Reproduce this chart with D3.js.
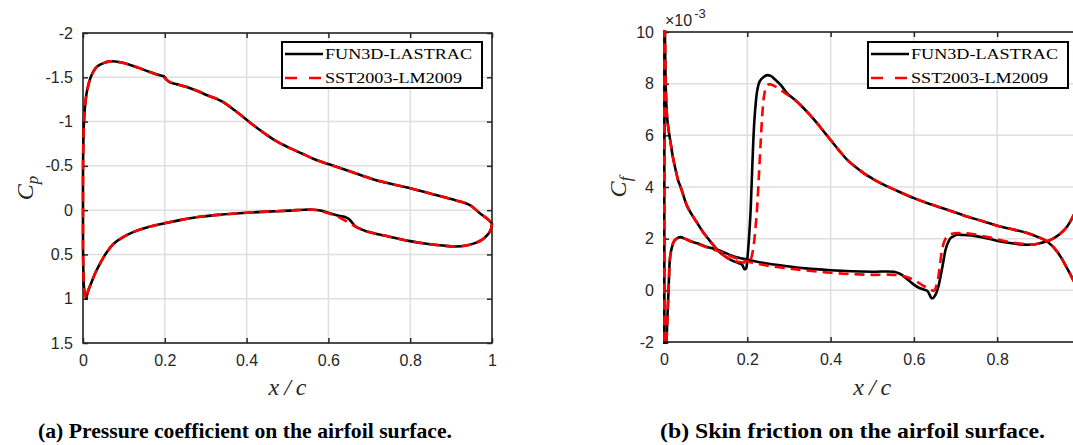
<!DOCTYPE html>
<html>
<head>
<meta charset="utf-8">
<script src="https://cdn.jsdelivr.net/npm/d3@7"></script>
<style>
  body { margin: 0; background: #fff; }
  svg { display: block; }
</style>
</head>
<body>
<div id="chart"></div>
<script>
const xTicks = [0, 0.2, 0.4, 0.6, 0.8, 1];
const cpTicks = [-2, -1.5, -1, -0.5, 0, 0.5, 1, 1.5];
const cfTicks = [-2, 0, 2, 4, 6, 8, 10];
const seriesNames = ["FUN3D-LASTRAC", "SST2003-LM2009"];

// Cp, upper surface (stagnation -> trailing edge)
const cpUpperFun3d = [[0.008, 1.0], [0.003, 0.9], [0.001, 0.7], [0.0, 0.4], [0.0, 0.0], [0.0, -0.4], [0.001, -0.8],
  [0.003, -1.05], [0.006, -1.22], [0.01, -1.35], [0.018, -1.49], [0.026, -1.57], [0.034, -1.62], [0.05, -1.66],
  [0.067, -1.68], [0.091, -1.67], [0.115, -1.64], [0.14, -1.6], [0.16, -1.565], [0.18, -1.535], [0.19, -1.52],
  [0.196, -1.515], [0.2, -1.5], [0.206, -1.465], [0.214, -1.44], [0.23, -1.42], [0.254, -1.39], [0.28, -1.345],
  [0.302, -1.3], [0.325, -1.26], [0.343, -1.22], [0.37, -1.13], [0.4, -1.02], [0.425, -0.93], [0.449, -0.85],
  [0.476, -0.77], [0.506, -0.7], [0.535, -0.64], [0.563, -0.58], [0.6, -0.52], [0.652, -0.44], [0.709, -0.35],
  [0.75, -0.3], [0.798, -0.25], [0.855, -0.18], [0.912, -0.11], [0.945, -0.06], [0.969, 0.03], [0.989, 0.1], [1.0, 0.15]];
const cpUpperSst = [[0.008, 1.0], [0.003, 0.9], [0.001, 0.7], [0.0, 0.4], [0.0, 0.0], [0.0, -0.4], [0.001, -0.8],
  [0.003, -1.05], [0.006, -1.22], [0.01, -1.35], [0.018, -1.49], [0.026, -1.57], [0.034, -1.62], [0.05, -1.66],
  [0.067, -1.68], [0.091, -1.67], [0.115, -1.64], [0.14, -1.6], [0.16, -1.565], [0.18, -1.53], [0.19, -1.51],
  [0.2, -1.49], [0.21, -1.455], [0.22, -1.435], [0.23, -1.42], [0.254, -1.39], [0.28, -1.345],
  [0.302, -1.3], [0.325, -1.26], [0.343, -1.22], [0.37, -1.13], [0.4, -1.02], [0.425, -0.93], [0.449, -0.85],
  [0.476, -0.77], [0.506, -0.7], [0.535, -0.64], [0.563, -0.58], [0.6, -0.52], [0.652, -0.44], [0.709, -0.35],
  [0.75, -0.3], [0.798, -0.25], [0.855, -0.18], [0.912, -0.11], [0.945, -0.06], [0.969, 0.03], [0.989, 0.1], [1.0, 0.15]];
// Cp, lower surface (stagnation -> trailing edge)
const cpLowerFun3d = [[0.008, 1.0], [0.012, 0.92], [0.016, 0.87], [0.022, 0.8], [0.03, 0.71], [0.042, 0.6],
  [0.056, 0.49], [0.075, 0.38], [0.1, 0.3], [0.124, 0.245], [0.16, 0.19], [0.197, 0.15], [0.24, 0.11],
  [0.286, 0.075], [0.34, 0.05], [0.4, 0.03], [0.45, 0.017], [0.506, 0.005], [0.54, -0.005], [0.563, -0.005],
  [0.58, 0.005], [0.6, 0.03], [0.618, 0.055], [0.632, 0.07], [0.642, 0.08], [0.65, 0.1], [0.658, 0.14],
  [0.666, 0.185], [0.68, 0.215], [0.694, 0.24], [0.74, 0.29], [0.8, 0.35], [0.84, 0.38], [0.88, 0.4],
  [0.91, 0.41], [0.937, 0.4], [0.96, 0.37], [0.977, 0.33], [0.989, 0.28], [0.997, 0.22], [1.0, 0.15]];
const cpLowerSst = [[0.008, 1.0], [0.012, 0.92], [0.016, 0.87], [0.022, 0.8], [0.03, 0.71], [0.042, 0.6],
  [0.056, 0.49], [0.075, 0.38], [0.1, 0.3], [0.124, 0.245], [0.16, 0.19], [0.197, 0.15], [0.24, 0.11],
  [0.286, 0.075], [0.34, 0.05], [0.4, 0.03], [0.45, 0.017], [0.506, 0.005], [0.54, -0.005], [0.563, -0.005],
  [0.58, 0.01], [0.6, 0.035], [0.615, 0.06], [0.63, 0.09], [0.645, 0.13], [0.66, 0.17],
  [0.672, 0.2], [0.694, 0.24], [0.74, 0.29], [0.8, 0.35], [0.84, 0.38], [0.88, 0.4],
  [0.91, 0.41], [0.937, 0.4], [0.96, 0.37], [0.977, 0.33], [0.989, 0.28], [0.997, 0.22], [1.0, 0.15]];

// Cf (x 10^-3), upper surface
const cfUpperFun3d = [[0.001, -2.6], [0.0015, 10.6], [0.004, 8.0], [0.006, 7.1], [0.008, 6.6], [0.012, 6.1],
  [0.016, 5.7], [0.022, 5.1], [0.028, 4.66], [0.034, 4.25], [0.04, 4.0], [0.048, 3.6], [0.056, 3.24], [0.068, 2.9],
  [0.08, 2.6], [0.094, 2.25], [0.108, 1.96], [0.122, 1.68], [0.136, 1.44], [0.152, 1.26], [0.168, 1.12],
  [0.18, 1.05], [0.188, 0.98], [0.193, 0.82], [0.197, 0.85], [0.2, 1.2], [0.204, 2.0], [0.208, 3.1], [0.212, 4.8],
  [0.216, 6.3], [0.22, 7.2], [0.224, 7.75], [0.23, 8.1], [0.24, 8.27], [0.248, 8.33], [0.256, 8.3], [0.264, 8.2],
  [0.28, 7.95], [0.296, 7.62], [0.316, 7.35], [0.336, 7.04], [0.352, 6.76], [0.368, 6.46], [0.384, 6.14],
  [0.4, 5.82], [0.42, 5.42], [0.44, 5.05], [0.46, 4.77], [0.48, 4.53], [0.5, 4.33], [0.52, 4.15], [0.56, 3.85],
  [0.6, 3.57], [0.64, 3.33], [0.68, 3.12], [0.72, 2.9], [0.76, 2.7], [0.8, 2.5], [0.84, 2.35], [0.872, 2.22],
  [0.9, 2.05], [0.92, 1.89], [0.944, 1.5], [0.968, 0.85], [0.984, 0.35], [1.0, -0.2]];
const cfUpperSst = [[0.001, -2.6], [0.0015, 10.6], [0.004, 8.0], [0.006, 7.1], [0.008, 6.6], [0.012, 6.1],
  [0.016, 5.7], [0.022, 5.1], [0.028, 4.66], [0.034, 4.25], [0.04, 4.0], [0.048, 3.6], [0.056, 3.24], [0.068, 2.9],
  [0.08, 2.6], [0.094, 2.25], [0.108, 1.96], [0.122, 1.68], [0.136, 1.44], [0.152, 1.26], [0.168, 1.14],
  [0.18, 1.1], [0.19, 1.08], [0.2, 1.1], [0.208, 1.2], [0.214, 1.6], [0.22, 2.47], [0.224, 3.3], [0.228, 4.5],
  [0.232, 5.69], [0.236, 6.8], [0.24, 7.5], [0.246, 7.9], [0.252, 7.98], [0.26, 7.95], [0.272, 7.85],
  [0.285, 7.7], [0.296, 7.58], [0.316, 7.35], [0.336, 7.04], [0.352, 6.76], [0.368, 6.46], [0.384, 6.14],
  [0.4, 5.82], [0.42, 5.42], [0.44, 5.05], [0.46, 4.77], [0.48, 4.53], [0.5, 4.33], [0.52, 4.15], [0.56, 3.85],
  [0.6, 3.57], [0.64, 3.33], [0.68, 3.12], [0.72, 2.9], [0.76, 2.7], [0.8, 2.5], [0.84, 2.35], [0.872, 2.22],
  [0.9, 2.05], [0.92, 1.89], [0.944, 1.5], [0.968, 0.85], [0.984, 0.35], [1.0, -0.2]];
// Cf (x 10^-3), lower surface
const cfLowerFun3d = [[0.004, -2.6], [0.006, -2.0], [0.008, -1.1], [0.01, -0.36], [0.012, 0.5], [0.014, 1.18],
  [0.018, 1.6], [0.024, 1.9], [0.032, 2.02], [0.04, 2.06], [0.05, 2.0], [0.064, 1.9], [0.08, 1.82], [0.1, 1.7],
  [0.128, 1.57], [0.15, 1.43], [0.168, 1.31], [0.2, 1.19], [0.24, 1.06], [0.288, 0.95], [0.34, 0.85], [0.4, 0.78],
  [0.45, 0.74], [0.5, 0.72], [0.552, 0.72], [0.565, 0.65], [0.576, 0.54], [0.59, 0.35], [0.6, 0.22], [0.612, 0.1],
  [0.622, 0.04], [0.632, -0.02], [0.638, -0.18], [0.642, -0.3], [0.646, -0.3], [0.652, -0.17], [0.658, 0.1],
  [0.664, 0.54], [0.67, 1.05], [0.676, 1.57], [0.682, 1.85], [0.688, 2.02], [0.696, 2.1], [0.704, 2.15],
  [0.72, 2.14], [0.752, 2.09], [0.78, 2.0], [0.808, 1.89], [0.84, 1.81], [0.864, 1.77], [0.884, 1.77],
  [0.904, 1.83], [0.92, 1.9], [0.936, 2.02], [0.952, 2.2], [0.968, 2.47], [0.984, 2.92], [1.0, 3.5]];
const cfLowerSst = [[0.004, -2.6], [0.006, -2.0], [0.008, -1.1], [0.01, -0.36], [0.012, 0.5], [0.014, 1.18],
  [0.018, 1.6], [0.024, 1.9], [0.032, 2.02], [0.04, 2.06], [0.05, 2.0], [0.064, 1.9], [0.08, 1.8], [0.1, 1.68],
  [0.128, 1.53], [0.15, 1.4], [0.168, 1.27], [0.2, 1.12], [0.24, 0.98], [0.288, 0.87], [0.34, 0.77], [0.4, 0.68],
  [0.45, 0.63], [0.5, 0.6], [0.552, 0.6], [0.58, 0.53], [0.6, 0.4], [0.62, 0.2], [0.636, 0.06], [0.648, -0.02],
  [0.656, 0.3], [0.662, 0.9], [0.668, 1.6], [0.676, 2.0], [0.69, 2.18], [0.71, 2.22], [0.74, 2.18],
  [0.78, 2.05], [0.82, 1.9], [0.86, 1.8], [0.884, 1.77],
  [0.904, 1.83], [0.92, 1.9], [0.936, 2.02], [0.952, 2.2], [0.968, 2.47], [0.984, 2.92], [1.0, 3.5]];

const svg = d3.select("#chart")
  .append("svg")
  .attr("width", 1073)
  .attr("height", 445);

const axisColor = "#262626";
const gridColor = "#dfdfdf";
const tickFont = "'Liberation Sans', Arial, Helvetica, sans-serif";
const serifFont = "'Liberation Serif', 'Times New Roman', serif";

const drawPanel = function (p) {
  const x = d3.scaleLinear().domain([0, 1]).range([p.left, p.right]);
  const y = d3.scaleLinear().domain(p.yDomain).range([p.top, p.bottom]);
  const g = svg.append("g");

  // grid
  g.append("g").selectAll("line").data(xTicks).join("line")
    .attr("x1", function (d) { return x(d); })
    .attr("x2", function (d) { return x(d); })
    .attr("y1", p.top).attr("y2", p.bottom)
    .attr("stroke", gridColor).attr("stroke-width", 1.5);
  g.append("g").selectAll("line").data(p.yTicks).join("line")
    .attr("x1", p.left).attr("x2", p.right)
    .attr("y1", function (d) { return y(d); })
    .attr("y2", function (d) { return y(d); })
    .attr("stroke", gridColor).attr("stroke-width", 1.5);

  // axes, ticks inward on all sides
  const fmt = function (d) { return String(d); };
  // x tick labels that would fall past the window edge are left out (as in the cropped figure)
  const xFmt = function (d) { return x(d) > 1070 ? "" : String(d); };
  const axes = [
    g.append("g").attr("transform", "translate(0," + p.bottom + ")")
      .call(d3.axisBottom(x).tickValues(xTicks).tickSize(-5).tickPadding(12).tickFormat(xFmt)),
    g.append("g").attr("transform", "translate(0," + p.top + ")")
      .call(d3.axisTop(x).tickValues(xTicks).tickSize(-5).tickFormat("")),
    g.append("g").attr("transform", "translate(" + p.left + ",0)")
      .call(d3.axisLeft(y).tickValues(p.yTicks).tickSize(-5).tickPadding(10).tickFormat(fmt)),
    g.append("g").attr("transform", "translate(" + p.right + ",0)")
      .call(d3.axisRight(y).tickValues(p.yTicks).tickSize(-5).tickFormat(""))
  ];
  axes.forEach(function (a) {
    a.select(".domain").remove();
    a.selectAll(".tick line").attr("stroke", axisColor).attr("stroke-width", 1.5);
    a.selectAll(".tick text")
      .attr("fill", axisColor)
      .style("font-family", tickFont)
      .style("font-size", "16px");
  });
  g.append("rect")
    .attr("x", p.left).attr("y", p.top)
    .attr("width", p.right - p.left).attr("height", p.bottom - p.top)
    .attr("fill", "none").attr("stroke", axisColor).attr("stroke-width", 1.6);

  // data
  const clipId = "clip" + p.id;
  svg.append("clipPath").attr("id", clipId)
    .append("rect")
    .attr("x", p.left - 2).attr("y", p.top - 2)
    .attr("width", p.right - p.left + 4).attr("height", p.bottom - p.top + 4);
  const line = d3.line()
    .x(function (d) { return x(d[0]); })
    .y(function (d) { return y(d[1]); })
    .curve(d3.curveCatmullRom.alpha(0.5));
  const lines = g.append("g").attr("clip-path", "url(#" + clipId + ")");
  p.series.forEach(function (s) {
    lines.append("path")
      .attr("d", line(s.points))
      .attr("fill", "none")
      .attr("stroke", s.color)
      .attr("stroke-width", 2.6)
      .attr("stroke-linejoin", "round")
      .attr("stroke-dasharray", s.dash);
  });

  // legend
  const lg = g.append("g");
  lg.append("rect")
    .attr("x", p.legend[0]).attr("y", p.legend[1])
    .attr("width", 200).attr("height", 46)
    .attr("fill", "#fff").attr("stroke", "#000").attr("stroke-width", 2);
  const legendLens = [147, 137];
  [["#000", null], ["#ff0000", "12,12"]].forEach(function (st, i) {
    const ly = p.legend[1] + 12 + i * 24;
    lg.append("line")
      .attr("x1", p.legend[0] + 3).attr("x2", p.legend[0] + 41)
      .attr("y1", ly).attr("y2", ly)
      .attr("stroke", st[0]).attr("stroke-width", 2.6)
      .attr("stroke-dasharray", st[1]);
    lg.append("text")
      .attr("x", p.legend[0] + 43).attr("y", ly + 4.5)
      .attr("font-family", serifFont).attr("font-size", 15)
      .attr("textLength", legendLens[i]).attr("lengthAdjust", "spacingAndGlyphs")
      .attr("fill", "#000")
      .text(seriesNames[i]);
  });

  // axis labels
  const cx = (p.left + p.right) / 2;
  g.append("text")
    .attr("x", cx).attr("y", 395)
    .attr("text-anchor", "middle")
    .attr("font-family", serifFont).attr("font-style", "italic").attr("font-size", 24)
    .attr("fill", axisColor)
    .attr("textLength", 38).attr("lengthAdjust", "spacing")
    .text("x/c");
  const yl = g.append("text")
    .attr("transform", "translate(" + p.ylabelX + "," + ((p.top + p.bottom) / 2) + ") rotate(-90)")
    .attr("text-anchor", "middle")
    .attr("font-family", serifFont).attr("font-style", "italic").attr("font-size", 24)
    .attr("fill", axisColor);
  yl.append("tspan").text("C");
  yl.append("tspan").attr("font-size", 17).attr("dy", 5).text(p.sub);

  // caption
  svg.append("text")
    .attr("x", p.caption[0]).attr("y", 438)
    .attr("font-family", serifFont).attr("font-weight", "bold").attr("font-size", 22)
    .attr("textLength", p.caption[1]).attr("lengthAdjust", "spacingAndGlyphs")
    .attr("fill", "#000")
    .text(p.caption[2]);
};

drawPanel({
  id: "cp", left: 83, right: 492, top: 33, bottom: 343,
  yDomain: [-2, 1.5], yTicks: cpTicks, ylabelX: 33, sub: "p",
  legend: [282, 42],
  caption: [38, 414, "(a) Pressure coefficient on the airfoil surface."],
  series: [
    { points: cpLowerFun3d.slice().reverse().concat(cpUpperFun3d), color: "#000", dash: null },
    { points: cpLowerSst.slice().reverse().concat(cpUpperSst), color: "#ff0000", dash: "10,6" }
  ]
});

drawPanel({
  id: "cf", left: 664, right: 1080.5, top: 32, bottom: 342,
  yDomain: [10, -2], yTicks: cfTicks, ylabelX: 626, sub: "f",
  legend: [868, 42],
  caption: [660, 385, "(b) Skin friction on the airfoil surface."],
  series: [
    { points: cfUpperFun3d, color: "#000", dash: null },
    { points: cfLowerFun3d, color: "#000", dash: null },
    { points: cfUpperSst, color: "#ff0000", dash: "10,6" },
    { points: cfLowerSst, color: "#ff0000", dash: "10,6" }
  ]
});

// exponent label of the Cf axis
const expo = svg.append("text")
  .attr("x", 665).attr("y", 26)
  .attr("font-family", tickFont).attr("font-size", 16)
  .attr("fill", axisColor);
expo.append("tspan").text("\u00d710");
expo.append("tspan").attr("font-size", 13).attr("dx", 2).attr("dy", -8).text("-3");
</script>
</body>
</html>
